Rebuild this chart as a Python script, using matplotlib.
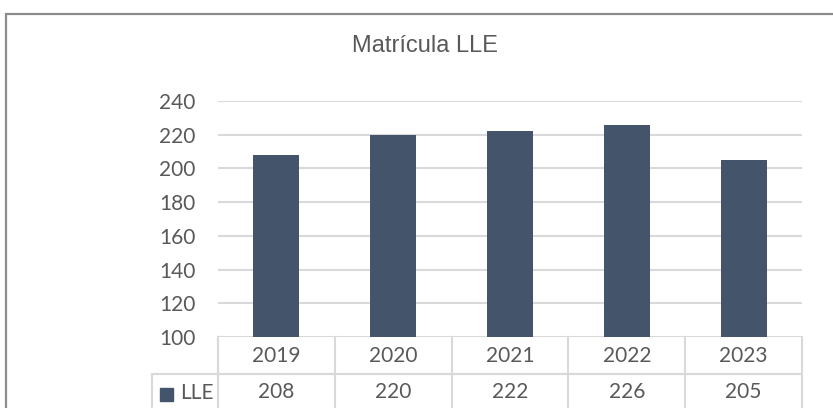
import matplotlib
matplotlib.use("Agg")
import matplotlib.pyplot as plt
from matplotlib.patches import Rectangle
from matplotlib.lines import Line2D
from matplotlib import font_manager

years = ["2019", "2020", "2021", "2022", "2023"]
values = [208, 220, 222, 226, 205]
series_name = "LLE"
title = "Matrícula LLE"
yticks = [100, 120, 140, 160, 180, 200, 220, 240]

W, H = 833, 408
fig = plt.figure(figsize=(W / 100, H / 100), dpi=100)

names = {f.name for f in font_manager.fontManager.ttflist}
title_font = ["Liberation Sans Narrow", "Liberation Sans"] if "Liberation Sans Narrow" in names else ["Liberation Sans"]
body_font = ["Lato", "DejaVu Sans"]
txt = "#595959"
grid = "#d9d9d9"
bar_c = "#44546a"

# outer chart border (top and left visible)
fig.patches.append(Rectangle((6 / W, -0.5), 1.5, 0.5 + (H - 14) / H, transform=fig.transFigure,
                             fill=False, edgecolor="#8c8c8c", linewidth=1.6))

L, R, T, B = 218, 802, 101, 337
ax = fig.add_axes([L / W, (H - B) / H, (R - L) / W, (B - T) / H])
x = list(range(len(years)))
ax.bar(x, values, width=0.394, color=bar_c, zorder=3)
ax.set_xlim(-0.5, len(years) - 0.5)
ax.set_ylim(yticks[0], yticks[-1])
ax.set_yticks(yticks)
ax.set_yticklabels([str(v) for v in yticks], fontsize=15, color=txt, family=body_font)
ax.tick_params(axis="y", length=0, pad=16)
ax.set_xticks([])
for s in ax.spines.values():
    s.set_visible(False)
ax.grid(axis="y", color=grid, linewidth=1.5, zorder=0)

fig.text(425 / W, 1 - 46 / H, title, ha="center", va="center", fontsize=17, color=txt, family=title_font)

# data table
axh = B - T
axw = R - L
r1 = -(374 - B) / axh
r2 = -(412 - B) / axh
hl = -(L - 152) / axw
lw = 1.5
def line(xs, ys):
    ax.add_line(Line2D(xs, ys, transform=ax.transAxes, color=grid, linewidth=lw, clip_on=False, zorder=1))

line([0, 1], [r1, r1])
line([hl, 1], [r1, r1])
line([0, 0], [0, r2])
line([hl, hl], [r1, r2])
for i in range(len(years) + 1):
    xf = i / len(years)
    line([xf, xf], [0, r2])

tr = ax.get_xaxis_transform()
for i, (yr, v) in enumerate(zip(years, values)):
    ax.text(i, r1 / 2, yr, transform=tr, ha="center", va="center", fontsize=15, color=txt, family=body_font, clip_on=False)
    ax.text(i, -(392 - B) / axh, str(v), transform=tr, ha="center", va="center", fontsize=15, color=txt, family=body_font, clip_on=False)

ax.add_patch(Rectangle(((160 - L) / axw, -(401 - B) / axh), 13 / axw, 13 / axh, transform=ax.transAxes,
                       color=bar_c, clip_on=False))
ax.text((180 - L) / axw, -(393 - B) / axh, series_name, transform=ax.transAxes, ha="left", va="center",
        fontsize=15, color=txt, family=body_font, clip_on=False)

fig.savefig("out.png", dpi=100)
